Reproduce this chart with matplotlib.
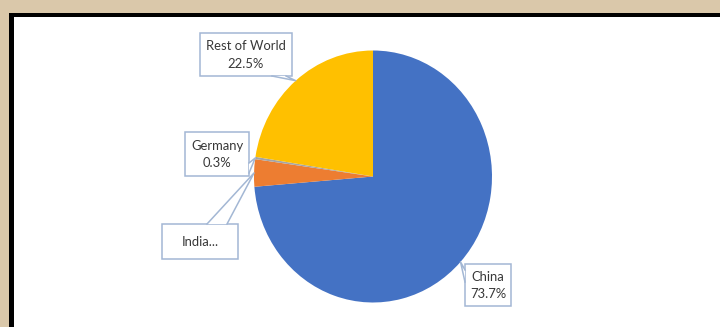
import numpy as np
import matplotlib.pyplot as plt
from matplotlib.patches import Rectangle, Polygon

# data
countries = ['China', 'India', 'Germany', 'Rest of World']
shares = [73.7, 3.5, 0.3, 22.5]
colors = ['#4472C4', '#ED7D31', '#A5A5A5', '#FFC000']
labels = ['China\n73.7%', 'India...', 'Germany\n0.3%', 'Rest of World\n22.5%']

# label boxes (pixels, top-left origin): x0, y0, x1, y1
boxes = [(465, 264, 511, 306), (162, 224, 238, 259),
         (185, 132, 249, 176), (200, 33, 292, 76)]
# pointer base points on each box
bases = [((465, 270), (465, 282)), ((207, 224), (227, 224)),
         ((249, 163), (249, 173)), ((272, 76), (286, 76))]

W, H = 720, 327
fig = plt.figure(figsize=(W / 100, H / 100), dpi=100)
fig.patch.set_facecolor('#DAC8AA')

# frame
fig.add_artist(Rectangle((9 / W, 0), 1, 1 - 13 / H, transform=fig.transFigure,
                         color='black', lw=0, zorder=-2))
fig.add_artist(Rectangle((14 / W, 0), 1, 1 - 17 / H, transform=fig.transFigure,
                         color='white', lw=0, zorder=-1))

# pie axes (slightly taller than wide, as in the picture)
cx, cy, rx, ry = 373, 176.5, 119, 126
pax = fig.add_axes([(cx - rx) / W, (H - cy - ry) / H, 2 * rx / W, 2 * ry / H])
wedges, _ = pax.pie(shares, colors=colors, startangle=90, counterclock=False,
                    radius=1, wedgeprops=dict(linewidth=0))
pax.set_aspect('auto')
pax.set_xlim(-1, 1)
pax.set_ylim(-1, 1)
pax.axis('off')

# overlay axes in pixel coords for callouts
ov = fig.add_axes([0, 0, 1, 1])
ov.set_xlim(0, W)
ov.set_ylim(H, 0)
ov.axis('off')

edge = '#A3B7D4'
for w, lab, (x0, y0, x1, y1), (b1, b2) in zip(wedges, labels, boxes, bases):
    mid = np.deg2rad((w.theta1 + w.theta2) / 2)
    tip = (cx + rx * np.cos(mid), cy - ry * np.sin(mid))
    ov.add_patch(Rectangle((x0, y0), x1 - x0, y1 - y0, facecolor='white',
                           edgecolor=edge, lw=1.1))
    ov.add_patch(Polygon([b1, tip, b2], closed=True, facecolor='white',
                         edgecolor='none'))
    ov.plot([b1[0], tip[0], b2[0]], [b1[1], tip[1], b2[1]], color=edge, lw=1.1)
    ov.text((x0 + x1) / 2, (y0 + y1) / 2 + 0.5, lab, ha='center', va='center',
            fontsize=9.4, color='#383838', linespacing=1.5,
            family=['Lato', 'DejaVu Sans'])

fig.savefig('out.png', dpi=100, facecolor=fig.get_facecolor())
